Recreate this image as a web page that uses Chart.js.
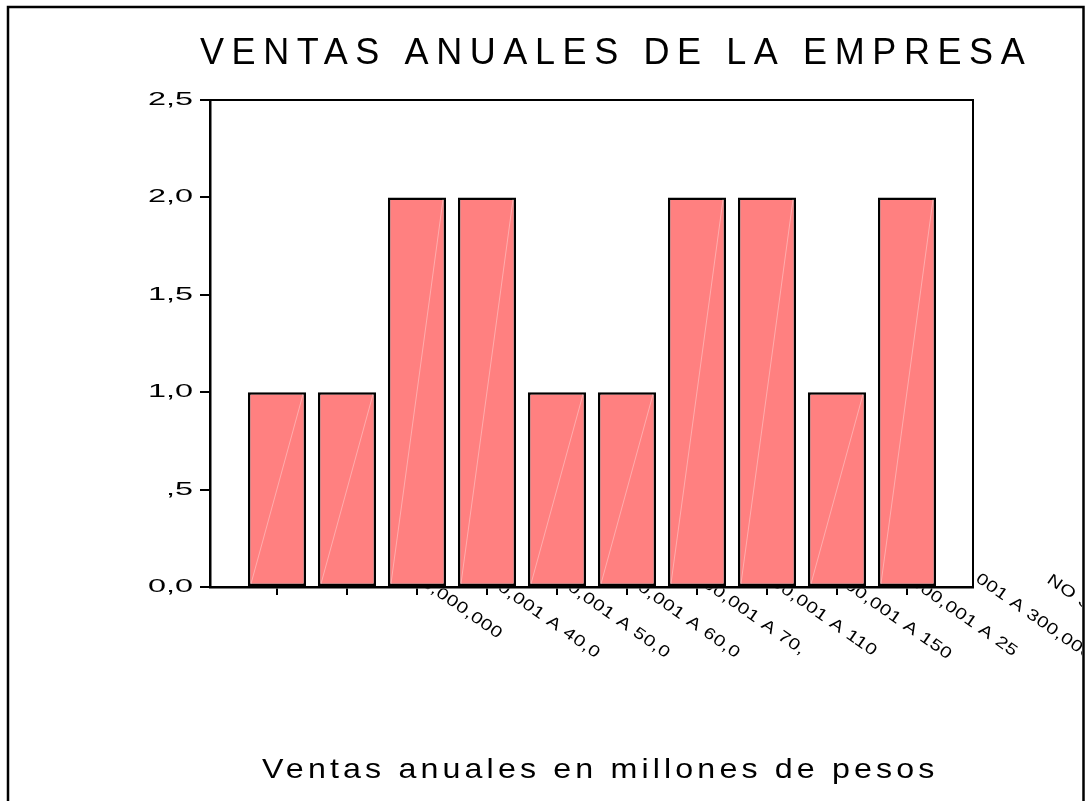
<!DOCTYPE html>
<html>
<head>
<meta charset="utf-8">
<script src="https://cdn.jsdelivr.net/npm/chart.js@4.4.0/dist/chart.umd.min.js"></script>
<style>
  html, body { margin: 0; padding: 0; background: #ffffff; }
  canvas { display: block; }
</style>
</head>
<body>
<canvas id="c" width="1088" height="801"></canvas>
<script>
// ---- data ----
const chartTitle = "VENTAS ANUALES DE LA EMPRESA";
const xAxisTitle = "Ventas anuales en millones de pesos";
const categories = [
  "30,000,000",
  "30,000,001 A 40,0",
  "40,000,001 A 50,0",
  "50,000,001 A 60,0",
  "60,000,001 A 70,",
  "70,000,001 A 110",
  "110,000,001 A 150",
  "150,000,001 A 25",
  "250,000,001 A 300,000,000",
  "NO SABE"
];
const counts = [1, 1, 2, 2, 1, 1, 2, 2, 1, 2];
const yTickValues = [0, 0.5, 1, 1.5, 2, 2.5];
const yTickLabels = ["0,0", ",5", "1,0", "1,5", "2,0", "2,5"];

// ---- plugins ----
const barShinePlugin = {
  id: 'barShine',
  afterDatasetsDraw(chart) {
    const ctx = chart.ctx;
    const meta = chart.getDatasetMeta(0);
    ctx.save();
    ctx.strokeStyle = 'rgba(255,255,255,0.35)';
    ctx.lineWidth = 1;
    meta.data.forEach(b => {
      const p = b.getProps(['x', 'y', 'base', 'width'], true);
      ctx.beginPath();
      ctx.moveTo(p.x - p.width / 2 + 3, p.base - 2);
      ctx.lineTo(p.x + p.width / 2 - 3, p.y + 2);
      ctx.stroke();
    });
    ctx.restore();
  }
};

const decorPlugin = {
  id: 'decor',
  afterDraw(chart) {
    const ctx = chart.ctx;
    const ca = chart.chartArea;
    const xs = chart.scales.x;
    ctx.save();
    // plot frame: top and right sides
    ctx.strokeStyle = '#000';
    ctx.lineWidth = 2;
    ctx.beginPath();
    ctx.moveTo(ca.left, ca.top);
    ctx.lineTo(ca.right, ca.top);
    ctx.lineTo(ca.right, ca.bottom);
    ctx.stroke();
    // outer frame
    ctx.lineWidth = 2.5;
    ctx.strokeRect(8, 7, 1075.5, 900);

    // titles
    ctx.fillStyle = '#000';
    ctx.textAlign = 'left';
    ctx.textBaseline = 'alphabetic';
    ctx.font = '36px "Liberation Sans", Arial, sans-serif';
    ctx.letterSpacing = '7.6px';
    ctx.fillText(chartTitle, 200, 64);

    ctx.save();
    ctx.translate(262, 778);
    ctx.scale(1.15, 1);
    ctx.font = '28px "Liberation Sans", Arial, sans-serif';
    ctx.letterSpacing = '3.6px';
    ctx.fillText(xAxisTitle, 0, 0);
    ctx.restore();
    ctx.restore();

    // rotated category labels, hidden behind the plot area
    ctx.save();
    ctx.beginPath();
    ctx.rect(9.5, 8.5, 1072.5, 900);
    ctx.rect(ca.left, ca.top, ca.right - ca.left, ca.bottom - ca.top + 1.5);
    ctx.clip('evenodd');
    ctx.font = '16px "Liberation Sans", Arial, sans-serif';
    ctx.letterSpacing = '0.4px';
    ctx.fillStyle = '#000';
    ctx.textAlign = 'center';
    ctx.textBaseline = 'middle';
    const ang = 35 * Math.PI / 180;
    categories.forEach((lab, i) => {
      const px = xs.getPixelForValue(i);
      ctx.save();
      ctx.translate(px + 180, ca.bottom + 18);
      ctx.rotate(ang);
      ctx.scale(1.27, 1);
      ctx.fillText(lab, 0, 0);
      ctx.restore();
    });
    ctx.restore();
  }
};

// stretch the y tick labels horizontally (wide SPSS-style digits)
function stretchYLabels(s) {
  if (s._stretched) return;
  s._stretched = true;
  const orig = s.drawLabels.bind(s);
  s.drawLabels = function (area) {
    const ctx = this.ctx;
    const ax = this.right - this.options.grid.tickLength - this.options.ticks.padding;
    ctx.save();
    ctx.translate(ax, 0);
    ctx.scale(1.8, 1);
    ctx.translate(-ax, 0);
    orig(area);
    ctx.restore();
  };
}

// ---- chart ----
new Chart(document.getElementById('c'), {
  type: 'bar',
  data: {
    datasets: [{
      data: counts.map((v, i) => ({ x: i, y: v })),
      backgroundColor: '#FF8080',
      borderColor: '#000000',
      borderWidth: 2.5,
      borderSkipped: false,
      barPercentage: 0.83,
      categoryPercentage: 1.0
    }]
  },
  options: {
    responsive: false,
    animation: false,
    layout: { padding: { left: 0, right: 115, top: 100, bottom: 0 } },
    plugins: {
      legend: { display: false },
      title: { display: false },
      tooltip: { enabled: false }
    },
    scales: {
      x: {
        type: 'linear',
        offset: false,
        min: -0.957,
        max: 9.943,
        afterBuildTicks: s => { s.ticks = categories.map((_, i) => ({ value: i })); },
        afterFit: s => { s.height = 214; },
        ticks: { display: false },
        grid: { offset: false, drawOnChartArea: false, drawTicks: true, tickLength: 8, color: '#000', lineWidth: 2 },
        border: { display: true, color: '#000', width: 2.5 }
      },
      y: {
        min: 0,
        max: 2.5,
        afterBuildTicks: s => { s.ticks = yTickValues.map(v => ({ value: v })); },
        afterFit: s => { s.width = 210; stretchYLabels(s); },
        ticks: {
          callback: (v) => yTickLabels[yTickValues.indexOf(v)],
          font: { family: '"Liberation Sans", Arial, sans-serif', size: 18 },
          color: '#000',
          padding: 7
        },
        grid: { drawOnChartArea: false, drawTicks: true, tickLength: 10, color: '#000', lineWidth: 2 },
        border: { display: true, color: '#000', width: 2.5 }
      }
    }
  },
  plugins: [barShinePlugin, decorPlugin]
});
</script>
</body>
</html>
